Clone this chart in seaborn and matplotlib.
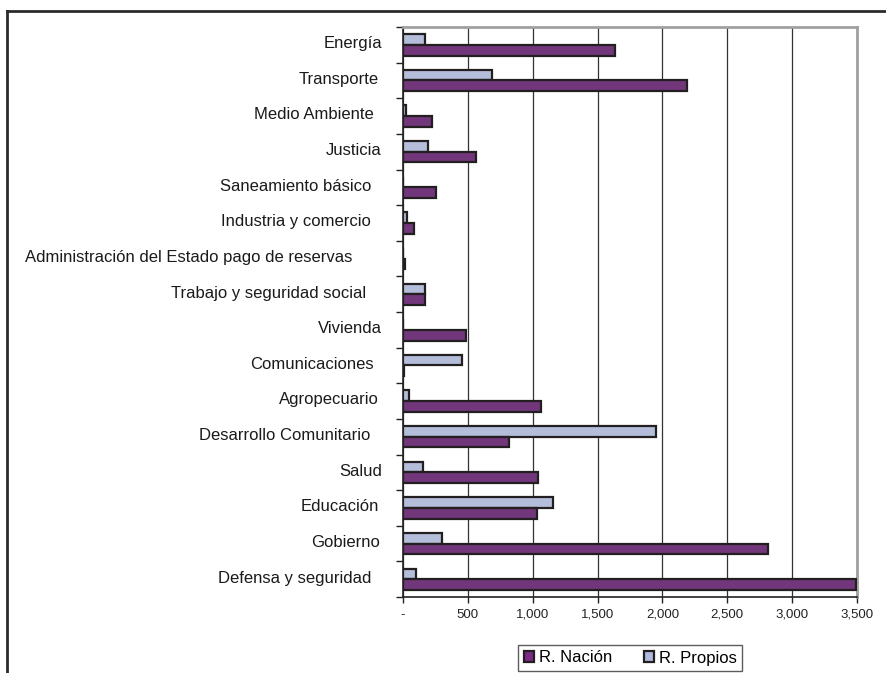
import matplotlib
matplotlib.use("Agg")
import matplotlib.pyplot as plt
import seaborn as sns
import pandas as pd
from matplotlib.patches import Patch
from matplotlib.lines import Line2D
from matplotlib.ticker import FuncFormatter, FixedLocator

categories = [
    "Energía", "Transporte", "Medio Ambiente", "Justicia", "Saneamiento básico",
    "Industria y comercio", "Administración del Estado pago de reservas",
    "Trabajo y seguridad social", "Vivienda", "Comunicaciones", "Agropecuario",
    "Desarrollo Comunitario", "Salud", "Educación", "Gobierno", "Defensa y seguridad",
]
r_nacion = [1632, 2187, 226, 563, 254, 87, 18, 167, 483, 8, 1066, 814, 1043, 1036, 2811, 3490]
r_propios = [172, 689, 25, 190, 0, 31, 0, 167, 0, 455, 49, 1950, 157, 1159, 303, 103]
series = ["R. Nación", "R. Propios"]
colors = {"R. Nación": "#7B2A87", "R. Propios": "#AEBADF"}
x_ticks = [0, 500, 1000, 1500, 2000, 2500, 3000, 3500]

# layout only: right edge (pixels) of each category label
label_right_px = [382, 379, 374, 382, 371, 371, 352, 366, 382, 374, 379, 370, 382, 379, 380, 371]

rows = []
for c, n, p in zip(categories, r_nacion, r_propios):
    rows.append({"Sector": c, "Serie": "R. Nación", "Valor": n})
    rows.append({"Sector": c, "Serie": "R. Propios", "Valor": p})
df = pd.DataFrame(rows)

plt.rcParams["font.family"] = ["Liberation Sans", "DejaVu Sans"]
W, H = 887, 673
AX_L, AX_R, AX_T, AX_B = 403, 857, 27, 597
fig = plt.figure(figsize=(W / 100, H / 100), dpi=100)
ax = fig.add_axes([AX_L / W, 1 - AX_B / H, (AX_R - AX_L) / W, (AX_B - AX_T) / H])

sns.barplot(data=df, y="Sector", x="Valor", hue="Serie", order=categories,
            hue_order=["R. Propios", "R. Nación"], palette=colors, orient="h",
            width=0.6, gap=0, edgecolor="#231F20", linewidth=1.6,
            errorbar=None, ax=ax, legend=False, zorder=3)

ax.set_xlim(0, 3500)
ax.set_ylim(len(categories) - 0.5, -0.5)
ax.xaxis.set_major_locator(FixedLocator(x_ticks))
ax.xaxis.set_major_formatter(FuncFormatter(lambda v, p: "-" if v == 0 else f"{int(v):,}"))
ax.grid(axis="x", color="#333333", linewidth=0.9, zorder=0)
ax.set_axisbelow(True)
ax.set_xlabel("")
ax.set_ylabel("")

# category labels as text at their individual right edges
ax.set_yticks(range(len(categories)))
ax.set_yticklabels([])
ax.tick_params(axis="y", which="major", length=0)
ytrans = ax.get_yaxis_transform()
for i, (lab, rpx) in enumerate(zip(categories, label_right_px)):
    ax.text((rpx - AX_L) / (AX_R - AX_L), i - 0.03, lab, transform=ytrans, ha="right", va="center",
            fontsize=12, color="#1a1a1a", clip_on=False)

ax.yaxis.set_minor_locator(FixedLocator([i - 0.5 for i in range(len(categories) + 1)]))
ax.tick_params(axis="y", which="minor", length=5, width=1, color="#222222")
ax.tick_params(axis="x", which="major", length=4, width=1, color="#222222", pad=4.5,
               labelsize=9.5, labelcolor="#222222")

for s in ["left", "bottom"]:
    ax.spines[s].set_color("#222222")
    ax.spines[s].set_linewidth(1.2)
for s in ["top", "right"]:
    ax.spines[s].set_color("#A0A0A0")
    ax.spines[s].set_linewidth(2)

handles = [Patch(facecolor=colors[s], edgecolor="#231F20", linewidth=1.6, label=s) for s in series]
leg = fig.legend(handles=handles, loc="center", bbox_to_anchor=(630 / W, 1 - 658 / H), ncol=2,
                 frameon=True, fancybox=False, edgecolor="#333333", fontsize=12,
                 handlelength=0.65, handleheight=0.65, handletextpad=0.25, columnspacing=1.9,
                 borderpad=0.35, borderaxespad=0)
leg.get_frame().set_linewidth(1)

fig.add_artist(Line2D([7 / W, 1.0], [1 - 11 / H, 1 - 11 / H], transform=fig.transFigure, color="#2b2b2b", linewidth=2))
fig.add_artist(Line2D([7 / W, 7 / W], [0.0, 1 - 11 / H], transform=fig.transFigure, color="#2b2b2b", linewidth=2))

fig.savefig("out.png", dpi=100, facecolor="white")
